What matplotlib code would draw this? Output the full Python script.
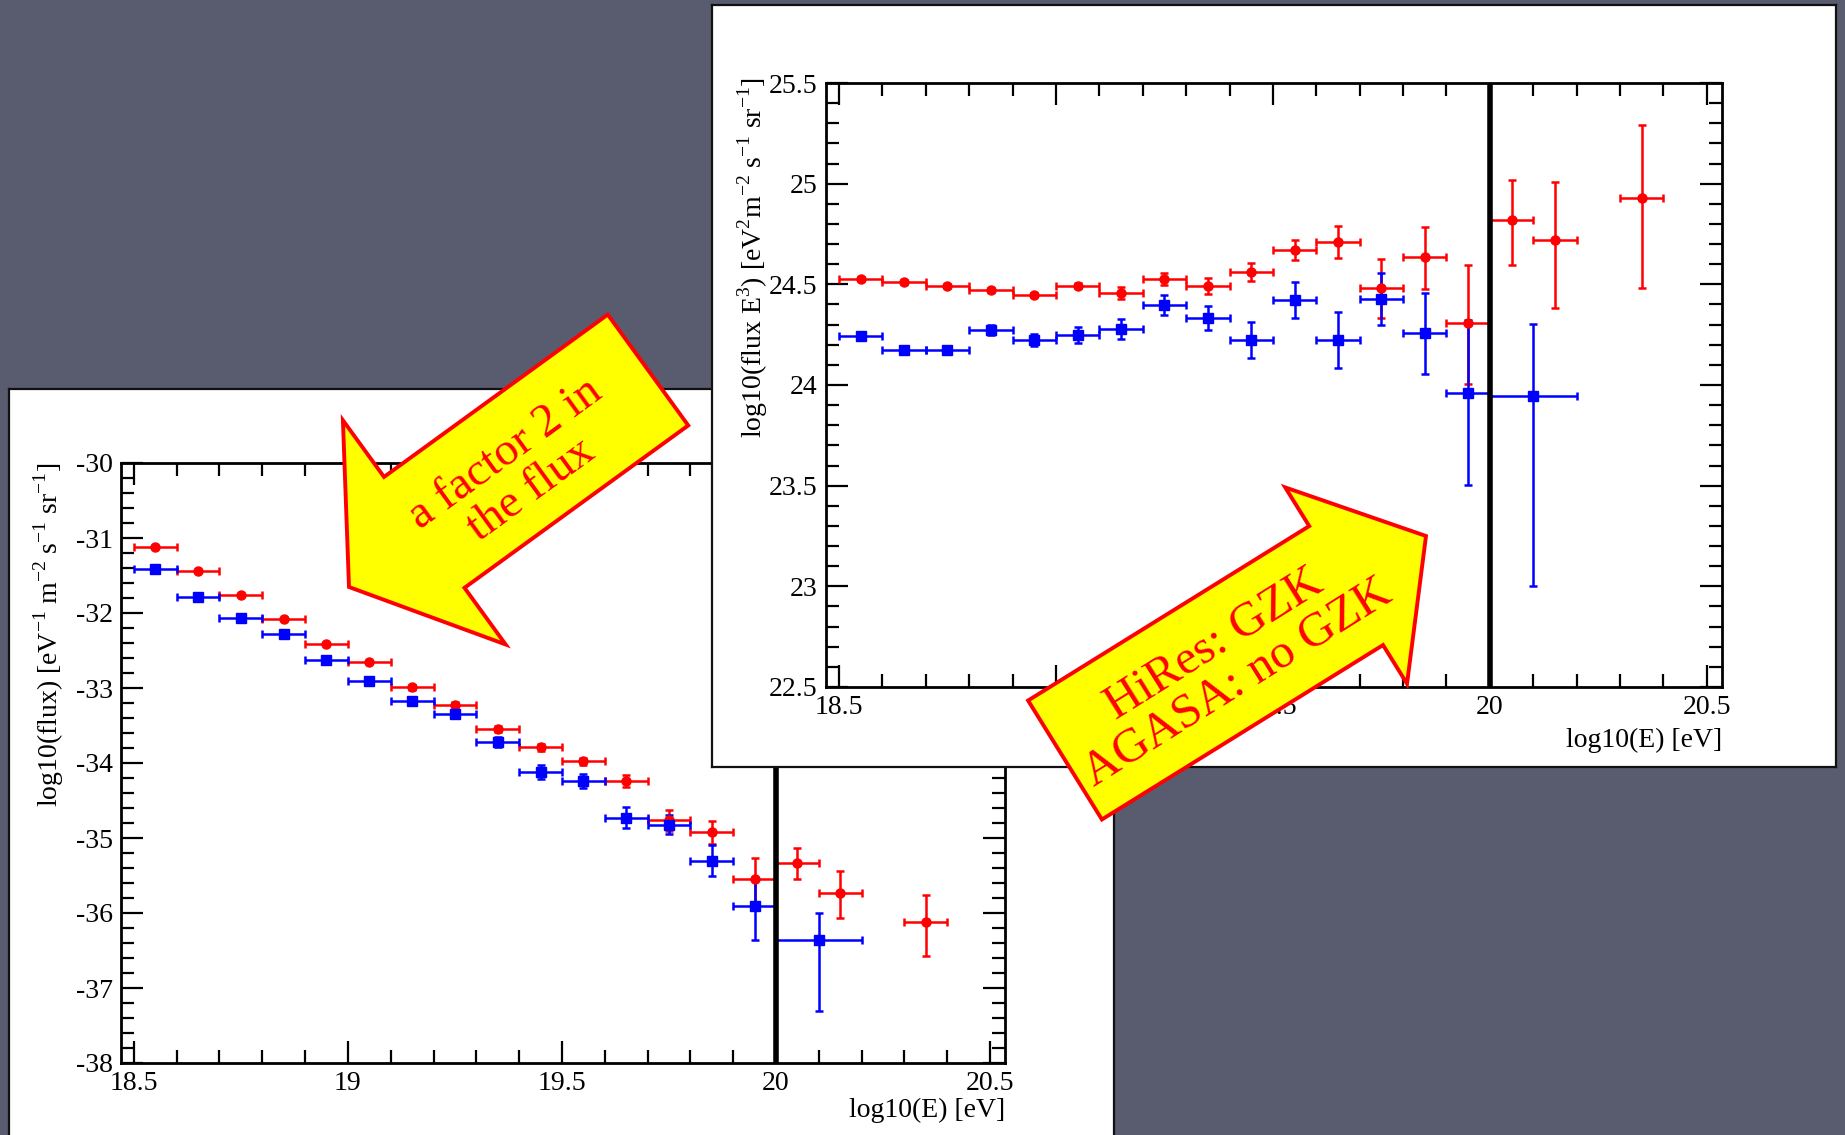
import numpy as np
import matplotlib
matplotlib.use('Agg')
import matplotlib.pyplot as plt
from matplotlib.patches import FancyArrow
from matplotlib.ticker import MultipleLocator, FuncFormatter

# ---- data ----
red_E = [18.55, 18.65, 18.75, 18.85, 18.95, 19.05, 19.15, 19.25, 19.35,
         19.45, 19.55, 19.65, 19.75, 19.85, 19.95, 20.05, 20.15, 20.35]
red_dE = [0.05] * 18
red_flux = [-31.12, -31.44, -31.76, -32.08, -32.41, -32.66, -32.99, -33.22, -33.55,
            -33.79, -33.98, -34.24, -34.76, -34.92, -35.55, -35.33, -35.73, -36.12]
red_fluxE3 = [24.528, 24.513, 24.492, 24.472, 24.447, 24.493, 24.456, 24.528, 24.493,
              24.562, 24.672, 24.709, 24.484, 24.636, 24.307, 24.818, 24.72, 24.93]
red_err_lo = [0.01, 0.01, 0.01, 0.01, 0.01, 0.012, 0.03, 0.03, 0.04,
              0.045, 0.05, 0.08, 0.15, 0.16, 0.3, 0.22, 0.34, 0.45]
red_err_hi = [0.01, 0.01, 0.01, 0.01, 0.01, 0.012, 0.03, 0.03, 0.04,
              0.045, 0.05, 0.08, 0.14, 0.15, 0.29, 0.2, 0.29, 0.36]

blue_E = [18.55, 18.65, 18.75, 18.85, 18.95, 19.05, 19.15, 19.25, 19.35,
          19.45, 19.55, 19.65, 19.75, 19.85, 19.95, 20.1]
blue_dE = [0.05] * 15 + [0.1]
blue_flux = [-31.41, -31.78, -32.07, -32.28, -32.62, -32.90, -33.17, -33.35, -33.72,
             -34.12, -34.24, -34.73, -34.82, -35.30, -35.90, -36.36]
blue_fluxE3 = [24.245, 24.173, 24.173, 24.275, 24.225, 24.25, 24.28, 24.398, 24.332,
               24.222, 24.423, 24.223, 24.427, 24.257, 23.961, 23.943]
blue_err_lo = [0.01, 0.015, 0.02, 0.025, 0.03, 0.04, 0.05, 0.05, 0.06,
               0.09, 0.09, 0.14, 0.13, 0.2, 0.46, 0.94]
blue_err_hi = [0.01, 0.015, 0.02, 0.025, 0.03, 0.04, 0.05, 0.05, 0.06,
               0.09, 0.09, 0.14, 0.13, 0.2, 0.36, 0.36]

gzk_cut = 20.0

plt.rcParams['font.family'] = 'Liberation Serif'
plt.rcParams['mathtext.fontset'] = 'custom'
plt.rcParams['mathtext.rm'] = 'Liberation Serif'
plt.rcParams['axes.unicode_minus'] = False

W, H = 1845, 1135
fig = plt.figure(figsize=(W / 100, H / 100), dpi=100, facecolor='#585c6e')


def box(x0, y0, x1, y1, z):
    # white slide panel given in pixel corners (y down)
    b = fig.add_axes([x0 / W, 1 - y1 / H, (x1 - x0) / W, (y1 - y0) / H], zorder=z)
    b.set_facecolor('white')
    b.set_xticks([])
    b.set_yticks([])
    for s in b.spines.values():
        s.set_linewidth(1.6)
        s.set_color('#111111')
    return b


def panel(x0, y0, x1, y1, z):
    return fig.add_axes([x0 / W, 1 - y1 / H, (x1 - x0) / W, (y1 - y0) / H], zorder=z)


def style(ax, ymajor, yminor):
    ax.set_xlim(18.47, 20.535)
    ax.xaxis.set_major_locator(MultipleLocator(0.5))
    ax.xaxis.set_minor_locator(MultipleLocator(0.1))
    ax.yaxis.set_major_locator(MultipleLocator(ymajor))
    ax.yaxis.set_minor_locator(MultipleLocator(yminor))
    fmt = FuncFormatter(lambda v, p: '%g' % round(v, 2))
    ax.xaxis.set_major_formatter(fmt)
    ax.yaxis.set_major_formatter(fmt)
    ax.tick_params(which='both', direction='in', top=True, right=True,
                   width=1.6, labelsize=20, pad=6)
    ax.tick_params(which='major', length=16)
    ax.tick_params(which='minor', length=9.5)
    for s in ax.spines.values():
        s.set_linewidth(2.0)


def draw(ax, ry, by):
    ax.errorbar(red_E, ry, xerr=red_dE, yerr=[red_err_lo, red_err_hi], fmt='o',
                color='red', ms=6.5, elinewidth=1.8, capsize=3, capthick=1.8)
    ax.errorbar(blue_E, by, xerr=blue_dE, yerr=[blue_err_lo, blue_err_hi], fmt='s',
                color='blue', ms=6.5, elinewidth=1.8, capsize=3, capthick=1.8)
    ax.axvline(gzk_cut, color='black', lw=4, zorder=5)


# left panel: flux
box(9, 389, 1114, 1150, 1)
ax1 = panel(121, 463, 1005, 1063, 2)
draw(ax1, red_flux, blue_flux)
ax1.set_ylim(-38, -30)
style(ax1, 1, 0.2)
ax1.set_xlabel('log10(E) [eV]', fontsize=20, loc='right')
ax1.xaxis.set_label_coords(1.0, -0.058)
ax1.set_ylabel(r'log10(flux) [eV$^{-1}$ m$^{-2}$ s$^{-1}$ sr$^{-1}$]', fontsize=20, loc='top')
ax1.yaxis.set_label_coords(-0.062, 1.0)

# right panel: flux * E^3
box(712, 5, 1836, 767, 3)
ax2 = panel(826, 83, 1722, 687, 4)
draw(ax2, red_fluxE3, blue_fluxE3)
ax2.set_ylim(22.5, 25.5)
style(ax2, 0.5, 0.1)
ax2.set_xlabel('log10(E) [eV]', fontsize=20, loc='right')
ax2.xaxis.set_label_coords(1.0, -0.068)
ax2.set_ylabel(r'log10(flux E$^{3}$) [eV$^{2}$m$^{-2}$ s$^{-1}$ sr$^{-1}$]', fontsize=20, loc='top')
ax2.yaxis.set_label_coords(-0.062, 1.01)

# overlay for the block arrows, one unit = one pixel
ov = fig.add_axes([0, 0, 1, 1], zorder=10)
ov.set_xlim(0, W)
ov.set_ylim(H, 0)
ov.axis('off')
ov.patch.set_alpha(0)

ov.add_patch(FancyArrow(648, 370, -299, 217, width=137, head_width=277, head_length=93,
                        length_includes_head=True, facecolor='#ffff00', edgecolor='red', lw=2.8))
ov.text(518, 472, 'a factor 2 in\nthe flux', rotation=36, ha='center', va='center',
        multialignment='center', fontsize=34, color='red', linespacing=1.05,
        rotation_mode='anchor')

ov.add_patch(FancyArrow(1065, 760, 361, -224, width=140, head_width=231, head_length=94,
                        length_includes_head=True, facecolor='#ffff00', edgecolor='red', lw=2.8))
ov.text(1226, 664, 'HiRes: GZK\nAGASA: no GZK', rotation=32, ha='center', va='center',
        multialignment='center', fontsize=35, color='red', linespacing=1.05,
        rotation_mode='anchor')

fig.savefig('out.png', dpi=100, facecolor=fig.get_facecolor())
